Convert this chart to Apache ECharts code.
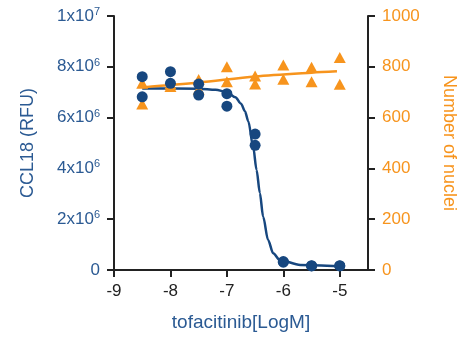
<!DOCTYPE html>
<html>
<head>
<meta charset="utf-8">
<script src="https://cdn.jsdelivr.net/npm/echarts@6/dist/echarts.min.js"></script>
<style>html,body{margin:0;padding:0;background:#fff}#c{width:462px;height:337px}</style>
</head>
<body>
<div id="c"></div>
<script>
// Data
const xTicks = [-9, -8, -7, -6, -5];
const ccl18Points = [
  [-8.5, 7.61e6], [-8.5, 6.82e6],
  [-8, 7.81e6], [-8, 7.35e6],
  [-7.5, 7.32e6], [-7.5, 6.89e6],
  [-7, 6.94e6], [-7, 6.45e6],
  [-6.5, 5.35e6], [-6.5, 4.91e6],
  [-6, 0.33e6], [-6, 0.31e6],
  [-5.5, 0.17e6], [-5.5, 0.16e6],
  [-5, 0.17e6], [-5, 0.16e6]
];
const ccl18Fit = [
  [-8.5, 7.15e6], [-7.5, 7.14e6], [-7.2, 7.1e6], [-7.0, 7.0e6],
  [-6.85, 6.8e6], [-6.75, 6.55e6], [-6.68, 6.25e6], [-6.62, 5.85e6],
  [-6.535, 4.85e6], [-6.474, 3.94e6], [-6.416, 3.03e6], [-6.358, 2.1e6],
  [-6.27, 1.18e6], [-6.18, 0.66e6], [-6.06, 0.39e6], [-5.7, 0.2e6], [-5.0, 0.15e6]
];
const nucleiPoints = [
  [-8.5, 735], [-8.5, 654],
  [-8, 722], [-8, 732],
  [-7.5, 750], [-7.5, 712],
  [-7, 800], [-7, 741],
  [-6.5, 764], [-6.5, 732],
  [-6, 807], [-6, 751],
  [-5.5, 798], [-5.5, 741],
  [-5, 837], [-5, 731]
];
const nucleiFit = [[-8.5, 719], [-7.5, 738], [-6.5, 762], [-5.5, 777], [-5.05, 782]];
const leftTickValues = [0, 2e6, 6e6, 8e6, 1e7];

const BLUE = '#17477f', BLUE_TXT = '#2b5a93', ORANGE = '#f7941d', AX = '#222';
const FONT = 'Liberation Sans';

function sciLabel(v) {
  if (v === 0) return '0';
  const e = Math.floor(Math.log10(v) + 1e-9);
  const m = Math.round(v / Math.pow(10, e));
  return '{a|' + m + 'x10}{b|' + e + '}';
}

const chart = echarts.init(document.getElementById('c'), null, {renderer: 'canvas'});
chart.setOption({
  animation: false,
  backgroundColor: '#fff',
  grid: {left: 114, right: 94, top: 16, bottom: 67, containLabel: false, outerBoundsMode: 'none'},
  xAxis: {
    type: 'value', min: -9, max: -4.5, interval: 1,
    name: 'tofacitinib[LogM]', nameLocation: 'middle', nameGap: 43,
    nameTextStyle: {color: BLUE_TXT, fontFamily: FONT, fontSize: 19},
    axisLine: {lineStyle: {color: AX, width: 2}},
    axisTick: {length: 7, lineStyle: {color: AX, width: 2}, customValues: xTicks},
    axisLabel: {color: '#222', fontFamily: FONT, fontSize: 17, margin: 13, customValues: xTicks},
    splitLine: {show: false}
  },
  yAxis: [{
    type: 'value', min: 0, max: 1e7, interval: 2e6, position: 'left',
    name: 'CCL18 (RFU)', nameLocation: 'middle', nameGap: 77, nameRotate: 90,
    nameTextStyle: {color: BLUE_TXT, fontFamily: FONT, fontSize: 18},
    axisLine: {show: true, lineStyle: {color: AX, width: 2}},
    axisTick: {show: true, length: 7, lineStyle: {color: AX, width: 2}, customValues: leftTickValues},
    axisLabel: {
      color: BLUE_TXT, fontFamily: FONT, fontSize: 17, margin: 14,
      formatter: sciLabel,
      rich: {
        a: {color: BLUE_TXT, fontFamily: FONT, fontSize: 17},
        b: {color: BLUE_TXT, fontFamily: FONT, fontSize: 11, padding: [0, 0, 8, 0]}
      }
    },
    splitLine: {show: false}
  }, {
    type: 'value', min: 0, max: 1000, interval: 200, position: 'right',
    name: 'Number of nuclei', nameLocation: 'middle', nameGap: 72, nameRotate: -90,
    nameTextStyle: {color: ORANGE, fontFamily: FONT, fontSize: 18},
    axisLine: {show: true, lineStyle: {color: AX, width: 2}},
    axisTick: {show: true, length: 7, lineStyle: {color: AX, width: 2}},
    axisLabel: {color: ORANGE, fontFamily: FONT, fontSize: 17, margin: 14, formatter: v => String(v)},
    splitLine: {show: false}
  }],
  series: [
    {type: 'line', yAxisIndex: 0, data: ccl18Fit, smooth: 0.3, smoothMonotone: 'x',
     showSymbol: false, lineStyle: {color: BLUE, width: 2.5}, z: 2},
    {type: 'line', yAxisIndex: 1, data: nucleiFit, smooth: 0.3,
     showSymbol: false, lineStyle: {color: ORANGE, width: 2.5}, z: 3},
    {type: 'scatter', yAxisIndex: 1, data: nucleiPoints, symbol: 'triangle', symbolSize: [12, 11],
     itemStyle: {color: ORANGE, opacity: 1}, z: 4},
    {type: 'scatter', yAxisIndex: 0, data: ccl18Points, symbol: 'circle', symbolSize: 11,
     itemStyle: {color: BLUE, opacity: 1}, z: 5}
  ]
});
</script>
</body>
</html>
